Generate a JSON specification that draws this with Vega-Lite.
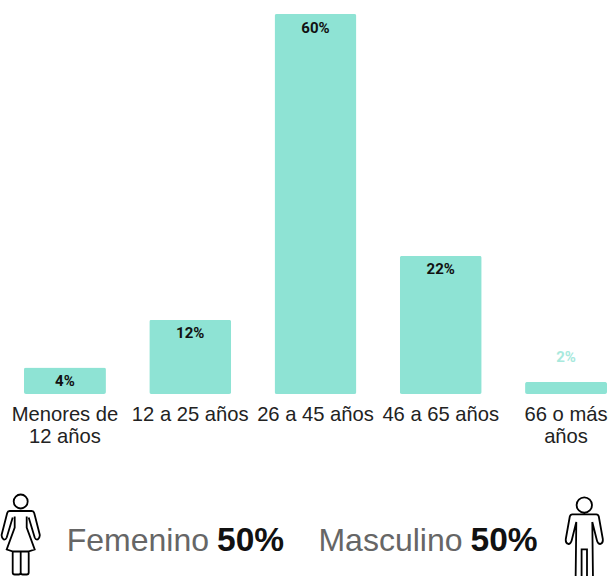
{
  "$schema": "https://vega.github.io/schema/vega-lite/v6.json",
  "width": 583,
  "height": 562,
  "autosize": {"type": "none"},
  "padding": {"left": 24, "top": 14, "right": 2, "bottom": 0},
  "background": "white",
  "config": {"view": {"stroke": null}, "font": "Liberation Sans"},
  "datasets": {
    "edades": [
      {"edad": "Menores de 12 años", "pct": 4.2, "etiqueta": "4%"},
      {"edad": "12 a 25 años", "pct": 11.7, "etiqueta": "12%"},
      {"edad": "26 a 45 años", "pct": 60, "etiqueta": "60%"},
      {"edad": "46 a 65 años", "pct": 21.8, "etiqueta": "22%"},
      {"edad": "66 o más años", "pct": 1.9, "etiqueta": "2%"}
    ],
    "sexo": [
      {"genero": "Femenino", "etiqueta": "50%", "grupo": "Sexo"},
      {"genero": "Masculino", "etiqueta": "50%", "grupo": "Sexo"}
    ]
  },
  "resolve": {"scale": {"x": "independent", "y": "independent"}, "axis": {"x": "independent", "y": "independent"}},
  "layer": [
    {
      "data": {"name": "edades"},
      "encoding": {
        "x": {
          "field": "edad", "type": "nominal", "sort": null,
          "scale": {"paddingInner": 0.346, "paddingOuter": 0},
          "axis": {
            "title": null, "domain": false, "ticks": false, "labelAngle": 0, "offset": -182, "labelPadding": 10,
            "labelFontSize": 20.2, "labelColor": "#222222", "labelLineHeight": 22, "labelFont": "Liberation Sans", "labelLimit": 200,
            "labelExpr": "datum.value == 'Menores de 12 años' ? ['Menores de', '12 años'] : datum.value == '66 o más años' ? ['66 o más', 'años'] : datum.value"
          }
        },
        "y": {"field": "pct", "type": "quantitative", "scale": {"domain": [0, 60], "range": [380, 0]}, "axis": null}
      },
      "layer": [
        {"mark": {"type": "bar", "color": "#8EE3D4", "cornerRadius": 2}},
        {
          "transform": [{"filter": "datum.pct >= 3"}],
          "mark": {"type": "text", "font": "Roboto", "fontWeight": "bold", "fontSize": 15, "color": "#111111", "baseline": "middle", "dy": 13.5},
          "encoding": {"text": {"field": "etiqueta"}}
        },
        {
          "transform": [{"filter": "datum.pct < 3"}],
          "mark": {"type": "text", "font": "Roboto", "fontWeight": "bold", "fontSize": 15, "color": "#A8E9DD", "baseline": "middle", "dy": -25},
          "encoding": {"text": {"field": "etiqueta"}}
        }
      ]
    },
    {
      "data": {"name": "sexo"},
      "encoding": {
        "x": {"field": "genero", "type": "nominal", "sort": null, "scale": {"type": "point", "domain": ["Femenino", "Masculino"], "range": [188.5, 442], "padding": 0}, "axis": null},
        "y": {"field": "grupo", "type": "nominal", "scale": {"type": "point", "domain": ["Sexo"], "range": [526.5, 526.5], "padding": 0}, "axis": null}
      },
      "layer": [
        {
          "mark": {"type": "text", "font": "Liberation Sans", "fontSize": 32, "color": "#666666", "align": "right", "baseline": "middle", "dx": -3.5},
          "encoding": {"text": {"field": "genero"}}
        },
        {
          "mark": {"type": "text", "font": "Liberation Sans", "fontWeight": "bold", "fontSize": 33.5, "color": "#111111", "align": "left", "baseline": "middle", "dx": 4.5},
          "encoding": {"text": {"field": "etiqueta"}}
        },
        {
          "transform": [{"filter": "datum.genero == 'Femenino'"}],
          "mark": {
            "type": "point", "filled": false, "stroke": "#000000", "strokeWidth": 1.8, "size": 4, "opacity": 1, "xOffset": -191.8, "yOffset": -4,
            "shape": "M-7,-35 A7,7 0 1,1 7,-35 A7,7 0 1,1 -7,-35 Z M-11,-25.5 L11,-25.5 Q13,-25.5 13.5,-23.5 L19,-2 Q19.5,1 17,3 Q15,3.5 14,1 L8,-19 M6,-20 L6,-9 L14,13 L8,15 L8,36 Q8,38 6,38 L2,38 Q0,38 0,36 L0,15 M0,36 Q0,38 -2,38 L-6,38 Q-8,38 -8,36 L-8,15 L-14,13 L-6,-9 L-6,-20 M-8,-19 L-14,1 Q-15,3.5 -17,3 Q-19.5,1 -19,-2 L-13.5,-23.5 Q-13,-25.5 -11,-25.5 M-8,15 L8,15"
          }
        },
        {
          "transform": [{"filter": "datum.genero == 'Masculino'"}],
          "mark": {
            "type": "point", "filled": false, "stroke": "#000000", "strokeWidth": 1.8, "size": 4, "opacity": 1, "xOffset": 118.3, "yOffset": -0.5,
            "shape": "M-7.7,-35 A7.7,7.7 0 1,1 7.7,-35 A7.7,7.7 0 1,1 -7.7,-35 Z M-12,-25.7 L12,-25.7 Q14,-25.7 14.5,-23.5 L18.5,-1 Q19,3 16,4 Q13.5,4 12.5,0 L8,-18 M8,-18 L8.7,40 M2.7,40 L2.7,9.3 L-2.7,9.3 L-2.7,40 M-8.7,40 L-8,-18 L-12.5,0 Q-13.5,4 -16,4 Q-19,3 -18.5,-1 L-14.5,-23.5 Q-14,-25.7 -12,-25.7"
          }
        }
      ]
    }
  ]
}
